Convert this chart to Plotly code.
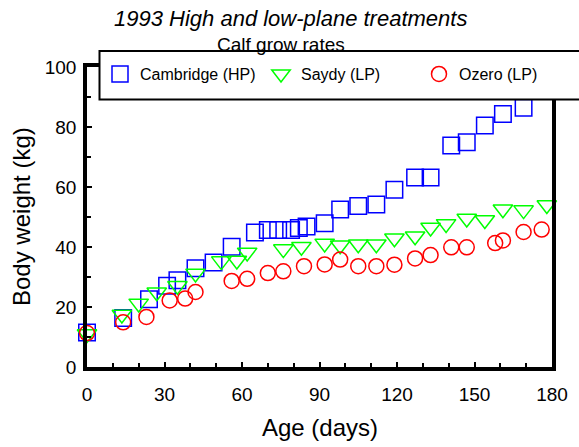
import plotly.graph_objects as go

# ---- data ----
cam_days = [0, 14, 24, 31, 35, 42, 49, 56, 65, 70, 74, 79, 82, 85, 92, 98, 105, 112, 119, 127, 133, 141, 147, 154, 161, 169]
cam_wt = [11.5, 16.3, 22.6, 27.1, 28.9, 32.9, 34.8, 40.1, 44.8, 45.7, 45.7, 45.7, 46.3, 46.8, 47.9, 52.5, 53.7, 54.2, 59.1, 63.2, 63.2, 73.8, 74.9, 80.5, 84.3, 86.4]

say_days = [0, 13.5, 20, 27, 35, 42, 52, 58, 62, 76, 83, 92, 98, 105, 112, 119, 127, 133, 139, 147, 154, 161, 169, 178]
say_wt = [11, 17.5, 21.2, 24.9, 27.1, 31.2, 35.3, 35.5, 38.2, 39.3, 40.1, 41.2, 40.6, 40.9, 40.9, 42.9, 43.6, 46.5, 47.7, 49.5, 49.0, 52.6, 52.3, 54.0]

oze_days = [0, 14, 23, 32, 38, 42, 56, 62, 70, 76, 84, 92, 98, 105, 112, 119, 127, 133, 141, 147, 158, 161, 169, 176]
oze_wt = [11.3, 14.9, 16.7, 22.2, 22.8, 25.0, 28.7, 29.4, 31.3, 31.9, 33.6, 34.2, 35.8, 33.6, 33.6, 34.1, 36.2, 37.3, 39.9, 39.9, 41.3, 42.2, 45.0, 45.8]

series_names = ["Cambridge (HP)", "Saydy (LP)", "Ozero (LP)"]
x_ticks = [0, 30, 60, 90, 120, 150, 180]
y_ticks = [0, 20, 40, 60, 80, 100]

FONT = "Liberation Sans, Arial, sans-serif"

fig = go.Figure()
fig.add_trace(go.Scatter(x=cam_days, y=cam_wt, mode="markers", name=series_names[0],
                         cliponaxis=False, legend="legend",
                         marker=dict(symbol="square-open", size=16.5, color="#0000ff",
                                     line=dict(width=1.5, color="#0000ff"))))
fig.add_trace(go.Scatter(x=say_days, y=say_wt, mode="markers", name=series_names[1],
                         cliponaxis=False, legend="legend",
                         marker=dict(symbol="triangle-down-open", size=17, color="#00ff00",
                                     line=dict(width=1.5, color="#00ff00"))))
fig.add_trace(go.Scatter(x=oze_days, y=oze_wt, mode="markers", name=series_names[2],
                         cliponaxis=False, legend="legend2",
                         marker=dict(symbol="circle-open", size=15, color="#ff0000",
                                     line=dict(width=1.5, color="#ff0000"))))

W, H = 579, 447
L, R, T, B = 87, 27, 67, 80
pw, ph = W - L - R, H - T - B

def px_x(p):
    return (p - L) / pw

def px_y(p):
    return (H - B - p) / ph

leg_common = dict(orientation="h", yanchor="middle", xanchor="left",
                  bgcolor="rgba(0,0,0,0)", borderwidth=0,
                  font=dict(size=16, family=FONT, color="black"),
                  entrywidthmode="pixels", itemsizing="trace")

fig.update_layout(
    width=W, height=H,
    margin=dict(l=L, r=R, t=T, b=B, autoexpand=False),
    paper_bgcolor="white", plot_bgcolor="white",
    font=dict(family=FONT, color="black"),
    showlegend=True,
    legend=dict(x=px_x(100), y=px_y(74), entrywidth=116, **leg_common),
    legend2=dict(x=px_x(419), y=px_y(74), entrywidth=90, **leg_common),
    xaxis=dict(range=[0, 180], tickvals=x_ticks, ticks="inside", ticklen=5, tickwidth=1.5,
               tickcolor="black", showline=True, linewidth=3.5, linecolor="black", mirror=True,
               showgrid=False, zeroline=False, tickfont=dict(size=19, family=FONT),
               ticklabelstandoff=7,
               minor=dict(dtick=10, ticks="inside", ticklen=4, tickwidth=1.5, tickcolor="black", showgrid=False)),
    yaxis=dict(range=[0, 100], tickvals=y_ticks, ticks="inside", ticklen=5, tickwidth=1.5,
               tickcolor="black", showline=True, linewidth=3.5, linecolor="black", mirror=True,
               showgrid=False, zeroline=False, tickfont=dict(size=19, family=FONT),
               ticklabelstandoff=3,
               minor=dict(dtick=10, ticks="inside", ticklen=4, tickwidth=1.5, tickcolor="black", showgrid=False)),
    shapes=[dict(type="rect", xref="paper", yref="paper",
                 x0=px_x(99.5), x1=px_x(600), y0=px_y(99.5), y1=px_y(51),
                 line=dict(color="black", width=2), fillcolor="white", layer="above")],
    annotations=[
        dict(text="<i>1993 High and low-plane treatments</i>", xref="paper", yref="paper",
             x=px_x(290), y=px_y(18), xanchor="center", yanchor="middle", showarrow=False,
             font=dict(size=22, family=FONT)),
        dict(text="Calf grow rates", xref="paper", yref="paper",
             x=px_x(281), y=px_y(44), xanchor="center", yanchor="middle", showarrow=False,
             font=dict(size=19, family=FONT)),
        dict(text="Age (days)", xref="paper", yref="paper",
             x=px_x(320), y=px_y(427), xanchor="center", yanchor="middle", showarrow=False,
             font=dict(size=24, family=FONT)),
        dict(text="Body weight (kg)", xref="paper", yref="paper", textangle=-90,
             x=px_x(21), y=px_y(217), xanchor="center", yanchor="middle", showarrow=False,
             font=dict(size=24, family=FONT)),
    ],
)

fig.write_html("out.html")
